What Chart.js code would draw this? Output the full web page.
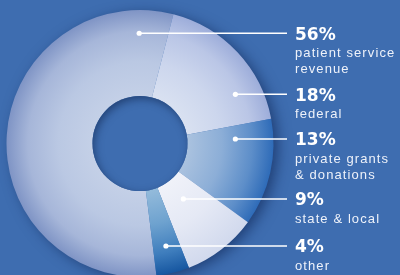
<!DOCTYPE html>
<html>
<head>
<meta charset="utf-8">
<script src="https://cdn.jsdelivr.net/npm/chart.js@4/dist/chart.umd.min.js"></script>
<style>
  html, body { margin: 0; padding: 0; background: #3e6db0; overflow: hidden; }
  #wrap { position: relative; width: 400px; height: 290px; }
</style>
</head>
<body>
<div id="wrap"><canvas id="c"></canvas></div>
<script>
// ---- data ----
const categories = ['patient service revenue', 'federal', 'private grants & donations', 'state & local', 'other'];
const labelLines = [['patient service', 'revenue'], ['federal'], ['private grants', '& donations'], ['state & local'], ['other']];
const shares = [56, 18, 13, 9, 4];

// ---- styling ----
const BG = '#3e6db0';
const CUT = 0.356;
const sliceStops = [
  [[0, '#c4d0e7'], [0.4, '#bac8e3'], [0.75, '#a6b6d9'], [1, '#7f94c5']],
  [[0, '#d9e1f1'], [0.4, '#ccd6ed'], [0.75, '#bac6e6'], [1, '#9dadda']],
  [[0, '#aac2df'], [0.4, '#8caed7'], [0.75, '#5d8ec9'], [1, '#2e6bb8']],
  [[0, '#f0f2f9'], [0.5, '#e5e9f5'], [1, '#d1d9ed']],
  [[0, '#94bbdb'], [0.4, '#6ea2cf'], [0.75, '#3e7dbd'], [1, '#1656a0']]
];
// leader dot placement inside each slice: fraction along the arc, fraction of outer radius
const dotAngleFrac = [0.926, 0.744, 0.171, 0.49, 0.507];
const dotRadiusFrac = [0.826, 0.804, 0.715, 0.527, 0.792];

function geom(chart) {
  const a = chart.chartArea;
  const r = Math.min(a.right - a.left, a.bottom - a.top) / 2;
  return { x: (a.left + a.right) / 2, y: (a.top + a.bottom) / 2, r: r, ir: r * CUT };
}

function sliceFill(ctx) {
  const chart = ctx.chart;
  if (!chart.chartArea) return '#b0c0de';
  const g = geom(chart);
  const grad = chart.ctx.createRadialGradient(g.x, g.y, g.ir, g.x, g.y, g.r);
  sliceStops[ctx.dataIndex].forEach(s => grad.addColorStop(s[0], s[1]));
  return grad;
}

const decor = {
  id: 'decor',
  beforeDatasetsDraw(chart) {
    const c = chart.ctx, g = geom(chart);
    c.save();
    c.shadowColor = 'rgba(10,30,75,0.6)';
    c.shadowBlur = 14;
    c.shadowOffsetX = 5;
    c.shadowOffsetY = 3;
    c.fillStyle = BG;
    c.beginPath();
    c.arc(g.x, g.y, g.r - 1, 0, Math.PI * 2);
    c.fill();
    c.restore();
  },
  afterDatasetsDraw(chart) {
    const c = chart.ctx, g = geom(chart);
    // inner shadow in the hole
    c.save();
    c.beginPath();
    c.arc(g.x, g.y, g.ir, 0, Math.PI * 2);
    c.clip();
    c.fillStyle = BG;
    c.fillRect(g.x - g.ir, g.y - g.ir, g.ir * 2, g.ir * 2);
    c.shadowColor = 'rgba(15,35,75,0.6)';
    c.shadowBlur = 9;
    c.shadowOffsetX = 2;
    c.shadowOffsetY = 3;
    c.beginPath();
    c.rect(g.x - g.ir - 60, g.y - g.ir - 60, g.ir * 2 + 120, g.ir * 2 + 120);
    c.arc(g.x, g.y, g.ir + 0.5, 0, Math.PI * 2, true);
    c.fillStyle = 'rgba(40,70,120,1)';
    c.fill('evenodd');
    c.restore();

    // leader lines and labels
    const meta = chart.getDatasetMeta(0);
    const lineEnd = 287, textX = 295;
    meta.data.forEach((arc, i) => {
      const p = arc.getProps(['x', 'y', 'startAngle', 'endAngle', 'outerRadius'], true);
      const ang = p.startAngle + (p.endAngle - p.startAngle) * dotAngleFrac[i];
      const rr = p.outerRadius * dotRadiusFrac[i];
      const dx = p.x + Math.cos(ang) * rr;
      const dy = p.y + Math.sin(ang) * rr;
      c.save();
      c.strokeStyle = '#ffffff';
      c.fillStyle = '#ffffff';
      c.lineWidth = 1.5;
      c.beginPath();
      c.moveTo(dx, dy);
      c.lineTo(lineEnd, dy);
      c.stroke();
      c.beginPath();
      c.arc(dx, dy, 2.6, 0, Math.PI * 2);
      c.fill();
      // percent
      c.textAlign = 'left';
      c.textBaseline = 'alphabetic';
      c.font = 'bold 17px "DejaVu Sans"';
      c.fillText(shares[i] + '%', textX, dy + 6.3);
      // description
      c.font = '13px "Liberation Sans"';
      c.letterSpacing = '1.1px';
      c.fillStyle = '#eef2fa';
      labelLines[i].forEach((t, k) => {
        c.fillText(t, textX, dy + 6.3 + 17.5 + k * 16.4);
      });
      c.restore();
    });
  }
};

new Chart(document.getElementById('c'), {
  type: 'doughnut',
  data: {
    labels: categories,
    datasets: [{
      data: shares,
      backgroundColor: sliceFill,
      borderWidth: 0,
      hoverOffset: 0
    }]
  },
  options: {
    responsive: true,
    maintainAspectRatio: false,
    animation: false,
    rotation: 172.9,
    cutout: (CUT * 100) + '%',
    layout: { padding: { left: 6.5, top: 10, right: 126.5, bottom: 13 } },
    plugins: { legend: { display: false }, tooltip: { enabled: false } },
    events: []
  },
  plugins: [decor]
});
</script>
</body>
</html>
